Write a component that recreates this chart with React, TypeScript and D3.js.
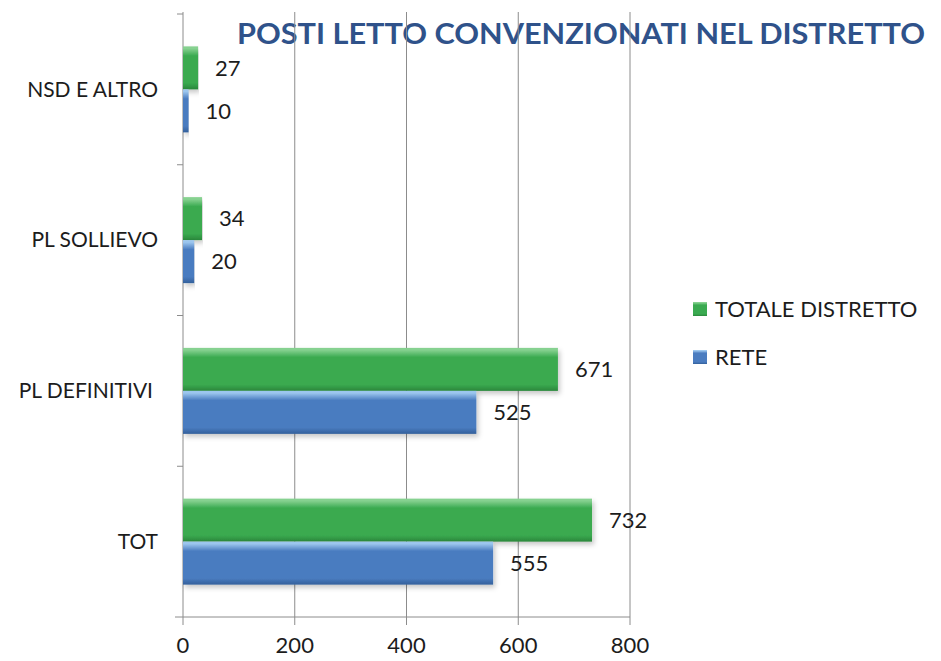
import React from 'react';
import * as d3 from 'd3';

// categories top to bottom
const categories = ['NSD E ALTRO', 'PL SOLLIEVO', 'PL DEFINITIVI', 'TOT'];
const seriesNames = ['TOTALE DISTRETTO', 'RETE'];
const totaleDistretto = [27, 34, 671, 732];
const rete = [10, 20, 525, 555];
const xTicks = [0, 200, 400, 600, 800];

const W = 941;
const H = 661;
const left = 183;
const right = 630;
const top = 14;
const bottom = 617;
const FONT = 'Lato, "Open Sans", sans-serif';

const colors: Record<string, { light: string; mid: string; dark: string }> = {
  'TOTALE DISTRETTO': { light: '#86d190', mid: '#3aaa50', dark: '#2a873b' },
  RETE: { light: '#9cc6ee', mid: '#4a7cc0', dark: '#33609b' },
};

const App = () => {
  const x = d3.scaleLinear().domain([0, 800]).range([left, right]);
  const y0 = d3.scaleBand<string>().domain(categories).range([top, bottom]).padding(0);
  const step = y0.bandwidth();
  const pair = 86;
  const y1 = d3
    .scaleBand<string>()
    .domain(seriesNames)
    .range([(step - pair) / 2, (step + pair) / 2]);

  const values: Record<string, number[]> = {
    'TOTALE DISTRETTO': totaleDistretto,
    RETE: rete,
  };

  return (
    <svg width={W} height={H} style={{ display: 'block', position: 'absolute', left: 0, top: 0, background: '#fff' }}>
      <defs>
        {seriesNames.map((s, i) => (
          <linearGradient key={s} id={`g${i}`} x1="0" y1="0" x2="0" y2="1">
            <stop offset="0" stopColor={colors[s].light} />
            <stop offset="0.05" stopColor={colors[s].light} />
            <stop offset="0.22" stopColor={colors[s].mid} />
            <stop offset="0.85" stopColor={colors[s].mid} />
            <stop offset="1" stopColor={colors[s].dark} />
          </linearGradient>
        ))}
        <filter id="shadow" x="-5%" y="-20%" width="110%" height="160%">
          <feDropShadow dx="2" dy="3" stdDeviation="2.5" floodColor="#000" floodOpacity="0.22" />
        </filter>
      </defs>

      {/* title (drawn beneath gridlines) */}
      <text x={237} y={44} fontFamily={FONT} fontWeight={700} fontSize={28} fill="#2f528a" textLength={688} lengthAdjust="spacingAndGlyphs">
        POSTI LETTO CONVENZIONATI NEL DISTRETTO
      </text>

      {/* gridlines and x ticks */}
      {xTicks.map((t) => (
        <line key={t} x1={x(t)} x2={x(t)} y1={top - 2} y2={bottom + 8} stroke="#8c8c8c" strokeWidth={1} />
      ))}
      <line x1={left - 8} x2={right} y1={bottom} y2={bottom} stroke="#8c8c8c" strokeWidth={1} />
      {/* category separator ticks */}
      {categories.map((c) => (
        <line key={c} x1={left - 6} x2={left} y1={y0(c)!} y2={y0(c)!} stroke="#8c8c8c" strokeWidth={1} />
      ))}

      {/* bars */}
      {categories.map((c, ci) => (
        <g key={c} transform={`translate(0,${y0(c)})`}>
          {seriesNames.map((s, si) => {
            const v = values[s][ci];
            const by = y1(s)!;
            const bh = y1.bandwidth();
            const bw = x(v) - x(0);
            return (
              <g key={s}>
                <rect x={x(0)} y={by} width={bw} height={bh} fill={`url(#g${si})`} filter="url(#shadow)" />
                <text
                  x={x(v) + 17}
                  y={by + bh / 2}
                  dy="0.35em"
                  fontFamily={FONT}
                  fontSize={22}
                  fill="#1c1c1c"
                >
                  {v}
                </text>
              </g>
            );
          })}
          <text
            x={c === 'PL DEFINITIVI' ? 153 : 158}
            y={step / 2}
            dy="0.35em"
            textAnchor="end"
            fontFamily={FONT}
            fontSize={21}
            fill="#1c1c1c"
          >
            {c}
          </text>
        </g>
      ))}

      {/* x tick labels */}
      {xTicks.map((t) => (
        <text key={t} x={x(t)} y={645} dy="0.35em" textAnchor="middle" fontFamily={FONT} fontSize={22} fill="#1c1c1c">
          {t}
        </text>
      ))}

      {/* legend */}
      {seriesNames.map((s, i) => (
        <g key={s} transform={`translate(693,${302 + i * 48})`}>
          <rect width={14} height={14} fill={`url(#g${i})`} />
          <text x={22} y={7} dy="0.35em" fontFamily={FONT} fontSize={22} fill="#1c1c1c">
            {s}
          </text>
        </g>
      ))}
    </svg>
  );
};

export default App;
